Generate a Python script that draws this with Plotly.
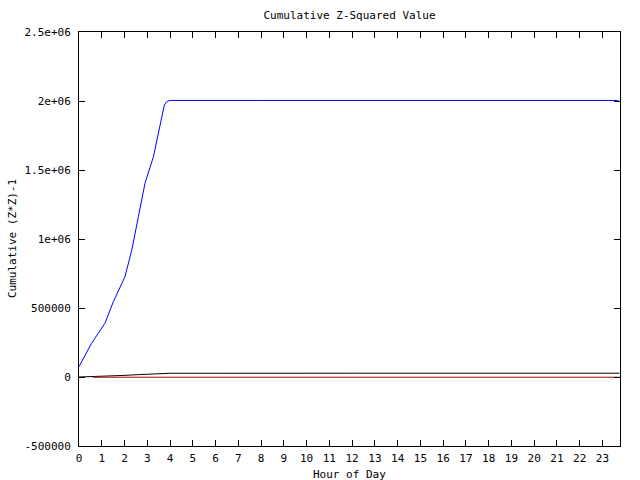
import plotly.graph_objects as go

# Blue series: cumulative (Z*Z)-1, main
blue_x = [0.0, 0.55, 1.14, 1.51, 2.02, 2.32, 2.61, 2.90, 3.27, 3.56, 3.75, 3.85, 4.0, 8.0, 12.0, 16.0, 20.0, 23.6, 23.75]
blue_y = [75000, 244000, 389000, 546000, 727000, 920000, 1162000, 1404000, 1596000, 1814000, 1971000, 1995000,
          2004000, 2004000, 2004000, 2004000, 2004000, 2004000, 1998000]

# Black series
black_x = [0.0, 0.6, 1.2, 1.9, 2.6, 3.4, 4.0, 12.0, 23.75]
black_y = [0, 2500, 6000, 11000, 17000, 24000, 27000, 27500, 27500]

# Dark red series
red_x = [0.6, 4.0, 12.0, 23.75]
red_y = [-1500, -1500, -1500, -1500]

y_tickvals = [-500000, 0, 500000, 1000000, 1500000, 2000000, 2500000]
y_ticktext = ["-500000", "0", "500000", "1e+06", "1.5e+06", "2e+06", "2.5e+06"]
x_tickvals = list(range(24))
x_ticktext = [str(h) for h in x_tickvals]

FONT = "DejaVu Sans Mono"

fig = go.Figure()
fig.add_trace(go.Scatter(x=blue_x, y=blue_y, mode="lines", line=dict(color="#0000ff", width=1), showlegend=False))
fig.add_trace(go.Scatter(x=black_x, y=black_y, mode="lines", line=dict(color="#000000", width=1), showlegend=False))
fig.add_trace(go.Scatter(x=red_x, y=red_y, mode="lines", line=dict(color="#b00000", width=1), showlegend=False))

axis_common = dict(showgrid=False, zeroline=False, showline=True, linecolor="black", linewidth=1,
                   mirror="allticks", ticks="inside", ticklen=6, tickcolor="black", tickwidth=1,
                   automargin=False,
                   tickfont=dict(family=FONT, size=11, color="black"))

fig.update_layout(
    width=640, height=480,
    margin=dict(l=79, r=20, t=32, b=34),
    paper_bgcolor="white", plot_bgcolor="white",
    font=dict(family=FONT, size=11, color="black"),
    title=dict(text="Cumulative Z-Squared Value", x=349.5/640, xanchor="center",
               y=1 - 15/480, yanchor="middle", yref="container", font=dict(family=FONT, size=11)),
    xaxis=dict(range=[0, 23.77], tickvals=x_tickvals, ticktext=x_ticktext, ticklabelstandoff=2, **axis_common),
    yaxis=dict(range=[-500000, 2500000], tickvals=y_tickvals, ticktext=y_ticktext, ticklabelstandoff=5,
               **axis_common),
    annotations=[
        dict(text="Hour of Day", xref="paper", yref="paper", x=0.5, y=0, xanchor="center", yanchor="middle",
             yshift=-28, showarrow=False, font=dict(family=FONT, size=11)),
        dict(text="Cumulative (Z*Z)-1", xref="paper", yref="paper", x=0, y=0.5, xanchor="center",
             yanchor="middle", xshift=-67, textangle=-90, showarrow=False, font=dict(family=FONT, size=11)),
    ],
)

fig.write_html("out.html")
